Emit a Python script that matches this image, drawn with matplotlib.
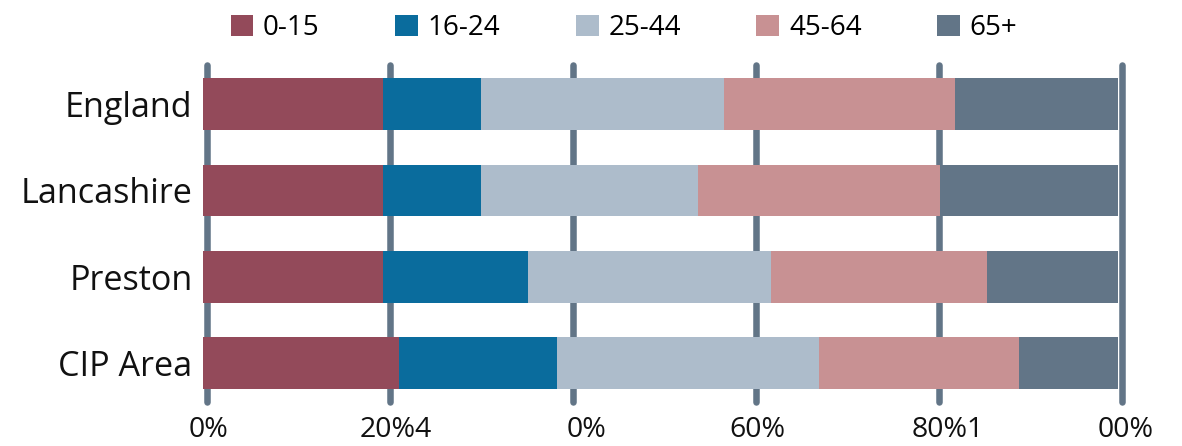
import matplotlib
matplotlib.use("Agg")
import matplotlib.pyplot as plt
import matplotlib.transforms as mtransforms
import numpy as np

# ---- data ----
regions = ["England", "Lancashire", "Preston", "CIP Area"]
age_groups = ["0-15", "16-24", "25-44", "45-64", "65+"]
age_0_15 = [19.7, 19.7, 19.7, 21.4]
age_16_24 = [10.7, 10.7, 15.8, 17.3]
age_25_44 = [26.5, 23.7, 26.6, 28.6]
age_45_64 = [25.3, 26.4, 23.6, 21.9]
age_65_plus = [17.8, 19.5, 14.3, 10.8]
x_ticks = [0, 20, 40, 60, 80, 100]
x_tick_labels = ["0%", "20%4", "0%", "60%", "80%1", "00%"]

series = [age_0_15, age_16_24, age_25_44, age_45_64, age_65_plus]
colors = ["#934A5A", "#0A6C9D", "#ADBCCB", "#C89193", "#627587"]
grid_color = "#627587"
# horizontal nudges (pixels) of the x tick labels, as rendered in the reference
label_nudges_px = [5, 10, 17, 5, 13, 8]

plt.rcParams['font.family'] = ['Open Sans', 'DejaVu Sans']

fig = plt.figure(figsize=(11.82, 4.46), dpi=100)
ax = fig.add_axes([203/1182, 40/446, 915/1182, 345/446])

y = np.arange(len(regions))
left = np.zeros(len(regions))
handles = []
for vals, col, lab in zip(series, colors, age_groups):
    h = ax.barh(y, vals, left=left, height=0.6, color=col, label=lab, zorder=3)
    handles.append(h)
    left += np.array(vals)

ax.set_xlim(0, 100)
ax.set_ylim(len(regions) - 0.5, -0.5)

# gridlines (slightly offset, round caps)
off = mtransforms.ScaledTranslation(3.5/100, 0, fig.dpi_scale_trans)
for t in x_ticks:
    ax.plot([t, t], [0.012, 0.988], transform=ax.get_xaxis_transform() + off,
            color=grid_color, lw=4.7, solid_capstyle='round', zorder=1,
            clip_on=False)

for s in ax.spines.values():
    s.set_visible(False)

ax.set_yticks(y)
ax.set_yticklabels(regions, fontsize=24.6, color="#111111")
ax.tick_params(axis='y', length=0, pad=7.5)

ax.set_xticks(x_ticks)
ax.set_xticklabels(x_tick_labels, fontsize=20.5, color="#111111")
ax.tick_params(axis='x', length=0, pad=7.5)
for lbl, dx in zip(ax.get_xticklabels(), label_nudges_px):
    lbl.set_transform(lbl.get_transform() +
                      mtransforms.ScaledTranslation(dx/100, 0, fig.dpi_scale_trans))

leg = fig.legend(handles=handles, labels=age_groups, ncol=5,
                 loc='center', bbox_to_anchor=(624/1182, 1 - 28/446),
                 frameon=False, fontsize=20, handlelength=0.82,
                 handleheight=0.82, handletextpad=0.35, columnspacing=2.72,
                 borderaxespad=0, borderpad=0)

fig.savefig("out.png", dpi=100)
